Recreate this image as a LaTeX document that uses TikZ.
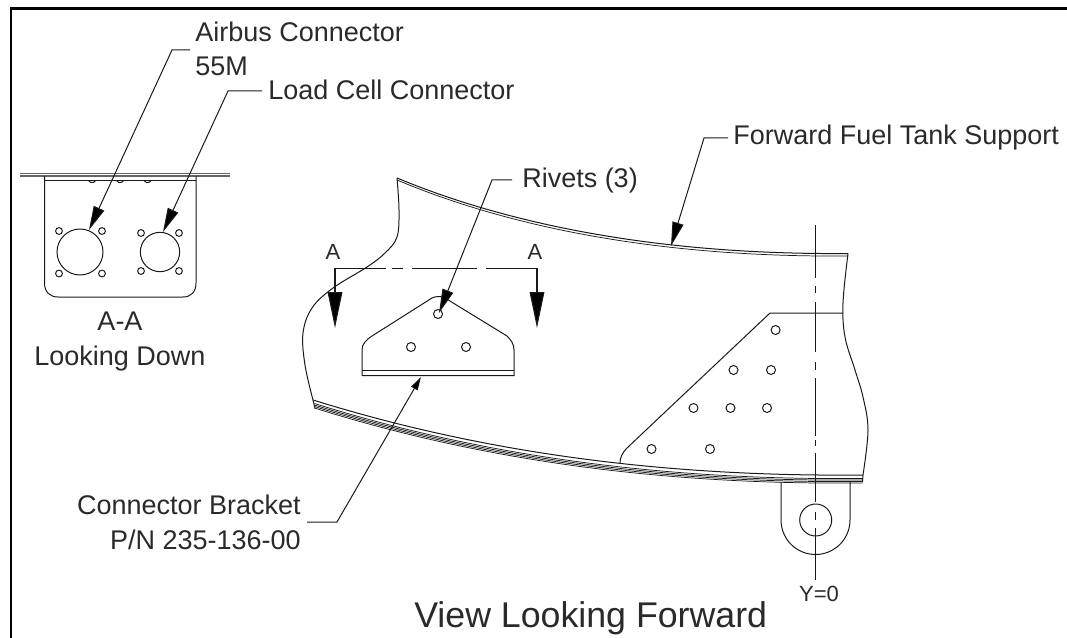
\documentclass[tikz,border=0pt]{standalone}
\usepackage{fontspec}
\setmainfont{Liberation Sans}
\usetikzlibrary{arrows.meta}
\definecolor{ink}{HTML}{1A1A1A}
\definecolor{txt}{HTML}{2A2A2A}
\tikzset{
 part/.style={draw=ink,line width=0.75pt},
 hole/.style={draw=ink,line width=0.75pt},
 fine/.style={draw=ink,line width=0.55pt},
 plate/.style={draw=black!60,line width=1pt},
 leader/.style={draw=ink,line width=0.75pt,-{Triangle[length=18pt,width=8.5pt,fill=black]}},
 smallleader/.style={draw=ink,line width=0.75pt,-{Triangle[length=10pt,width=5.5pt,fill=black]}},
 sectionarrow/.style={draw=ink,line width=0.9pt,-{Triangle[length=27pt,width=11pt,fill=black]}},
 lbl/.style={inner sep=0pt,font=\fontsize{20.25}{24}\selectfont,text=txt},
 smalllbl/.style={inner sep=0pt,font=\fontsize{16.5}{20}\selectfont,text=txt},
 biglbl/.style={inner sep=0pt,font=\fontsize{26.8}{30}\selectfont,text=txt}
}
\begin{document}
\begin{tikzpicture}[x=0.75pt,y=-0.75pt]
\useasboundingbox (0,0) rectangle (1067,638);
% frame
\draw[black,line width=1.6pt] (11,638) -- (11,8.5) -- (1067,8.5);
% labels
\node[lbl,anchor=base west] (airbus) at (195,42) {Airbus Connector};
\node[lbl,anchor=base west] (m55) at (195,76) {55M};
\node[lbl,anchor=base west] (load) at (268,100) {Load Cell Connector};
\node[lbl,anchor=base west] (rivets) at (522,188) {Rivets (3)};
\node[lbl,anchor=base west] (fwd) at (733,145) {Forward Fuel Tank Support};
\node[lbl,anchor=base] (aa) at (120,330) {A-A};
\node[lbl,anchor=base] (ld) at (120,365) {Looking Down};
\node[lbl,anchor=base east] (cb) at (301,514) {Connector Bracket};
\node[lbl,anchor=base east] (pn) at (301,549) {P/N 235-136-00};
\node[biglbl,anchor=base west] (view) at (414,627) {View Looking Forward};
\node[smalllbl,anchor=base] (y0) at (819,601) {Y=0};
\node[smalllbl,anchor=base] (a1) at (333,259) {A};
\node[smalllbl,anchor=base] (a2) at (535,259) {A};
% A-A view
\draw[plate] (20,173.5) -- (230,173.5);
\draw[plate] (20,176) -- (230,176);
\draw[part] (44.5,176) -- (44.5,283) .. controls (44.5,292) and (50,297) .. (58,297) -- (183,297) .. controls (191,297) and (196,292) .. (196,283) -- (196,176);
\draw[part] (44.5,180.5) -- (196,180.5);
\foreach \x in {92,120,147.5}{
 \draw[part] (\x,179) ++(150:3.7) arc[start angle=150,end angle=30,radius=3.7];
}
\node[draw=ink,line width=0.75pt,circle,minimum size=34.5pt,inner sep=0pt] (c55) at (80,252) {};
\node[draw=ink,line width=0.75pt,circle,minimum size=29.5pt,inner sep=0pt] (cload) at (160,252) {};
\foreach \x/\y in {59/231,102/231,59/273.5,102/273.5,141/233,179/233,141/271,179/271}{
 \draw[hole] (\x,\y) circle[radius=3.4];
}
% top flange
\draw[part] (397,178) .. controls (510,225) and (660,255) .. (848,253.5);
\draw[fine] (397,180) .. controls (510,227.5) and (660,257.5) .. (848,256);
% left and right edges
\draw[part] plot[smooth,tension=0.6] coordinates {(397,178) (399,210) (397,237) (385,253) (367,267) (333,288) (312,308) (303,333) (305,365) (313,400)};
\draw[part] (313,400) -- (315,408.5);
\draw[part] plot[smooth,tension=0.6] coordinates {(848,253.5) (843,303) (845,337) (855,370) (863,397) (868,430) (863,475)};
\draw[part] (863,475) -- (862.5,482);
% lower flange
\draw[part] (313,400) .. controls (480,452) and (660,477) .. (863,475);
\foreach \d in {3.5,5,6.5,8}{
 \draw[fine] (314.5,400+\d) .. controls (480,452+\d) and (660,477+\d) .. (862.5,475+\d);
}
% gusset
\draw[part] (843,313) -- (770,313) -- (627,448) .. controls (622,453) and (620,458) .. (620,463);
\foreach \x/\y in {775.6/330,733.5/370,771/370,693.5/408,730.5/408,767/408,651.5/449,710/449}{
 \draw[hole] (\x,\y) circle[radius=4.5];
}
% connector bracket
\draw[part] (362,375.5) -- (362,350) .. controls (362,344) and (366,340) .. (372,336) -- (432,298) .. controls (436,296) and (441,296) .. (445,298) -- (507,336) .. controls (511,340) and (514,344) .. (514,350) -- (514,375.5) -- cycle;
\draw[part] (362,370.5) -- (514,370.5);
\foreach \x/\y/\r in {438/314/4.5,411/347/4.5,466/347/4.5}{
 \draw[hole] (\x,\y) circle[radius=\r];
}
% lug
\draw[part] (781,482) -- (781,520) arc[start angle=180,end angle=0,radius=34.5] -- (850,482);
\node[draw=ink,line width=0.75pt,circle,minimum size=24pt,inner sep=0pt] (lughole) at (815.7,520) {};
% centre line
\coordinate (cltop) at (815.7,225);
\coordinate (clbot) at (815.7,580);
\draw[part] (cltop) -- (815.7,278);
\draw[part] (815.7,286) -- (815.7,293);
\draw[part] (815.7,302) -- (815.7,352);
\draw[part] (815.7,362) -- (815.7,370);
\draw[part] (815.7,378) -- (815.7,436);
\draw[part] (815.7,440) -- (815.7,446);
\draw[part] (815.7,453) -- (815.7,502);
\draw[part] (815.7,512) -- (815.7,520);
\draw[part] (815.7,528) -- (clbot);
% section line
\coordinate (s1) at (335,268);
\coordinate (s2) at (537,268);
\coordinate (s1t) at (335,328);
\coordinate (s2t) at (537,328);
\draw[part] (s1) -- (386,268);
\draw[part] (392,268) -- (403,268);
\draw[part] (412,268) -- (477,268);
\draw[part] (486,268) -- (s2);
\draw[sectionarrow] (s1) -- (s1t);
\draw[sectionarrow] (s2) -- (s2t);
% leaders
\coordinate (tair) at (89,230);
\coordinate (tload) at (163,232);
\coordinate (trivet) at (439,313);
\coordinate (tfwd) at (671,246);
\coordinate (tcb) at (421,377);
\draw[leader] (190,50) -- (172,50) -- (tair);
\draw[leader] (262,91) -- (228,91) -- (tload);
\draw[leader] (512,180) -- (492,180) -- (trivet);
\draw[leader] (728,138) -- (704,138) -- (tfwd);
\draw[smallleader] (307,522) -- (337,522) -- (tcb);
\end{tikzpicture}
\end{document}
